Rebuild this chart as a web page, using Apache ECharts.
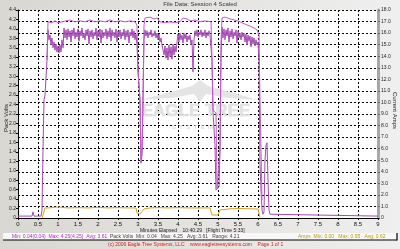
<!DOCTYPE html>
<html>
<head>
<meta charset="utf-8">
<script src="https://cdn.jsdelivr.net/npm/echarts@6/dist/echarts.min.js"></script>
<style>html,body{margin:0;padding:0;background:#e4e2dc}#c{width:400px;height:249px}</style>
</head>
<body>
<div id="c"></div>
<script>
// ---- data (minutes on x) ----
const xTicks = {min: 0, max: 9, interval: 0.5};
const leftAxis = {min: 0, max: 4.4, interval: 0.2};
const rightAxis = {min: 0, max: 18, interval: 1};
const SAMPLE_MIN = 0.025; // logger sample period, minutes

// pack volts: sparse start, dense logged section, end
const voltsStart = [[0,0.04],[0.35,0.04],[0.375,0.13],[0.4,0.04],[0.575,0.04],[0.6,0.17],[0.625,1.44],[0.65,2.50],[0.675,2.60],[0.7,2.64],[0.725,3.34]];
const voltsLogStart = 0.75;
const voltsLog = [
 3.98,3.77,3.87,3.66,3.81,3.60,3.72,3.55,3.68,3.51,3.64,3.49,3.66,3.51,3.77,3.60,
 4.02,3.81,3.98,3.77,4.00,3.83,3.96,3.72,3.98,3.85,
 4.02,3.79,3.93,3.83,4.00,3.74,3.96,3.85,4.02,3.81,
 3.91,3.77,3.98,3.85,4.00,3.68,3.96,3.83,3.98,3.79,
 3.93,3.85,4.02,3.77,3.96,3.83,4.00,3.70,3.98,3.81,
 3.93,3.85,4.00,3.79,3.96,3.83,4.02,3.74,3.98,3.85,
 3.93,3.81,4.00,3.72,3.96,3.83,3.98,3.79,3.93,3.85,
 4.00,3.77,3.96,3.83,3.98,3.70,3.93,3.85,4.00,3.81,
 3.96,3.77,3.89,
 3.66,3.09,3.13,2.50,1.16,1.33,2.50,3.77,
 3.98,3.85,3.96,3.81,3.93,3.87,3.98,3.83,3.91,3.85,3.96,3.81,3.91,3.77,3.89,3.72,3.81,3.66,
 3.68,3.45,3.64,3.38,3.60,3.34,3.66,3.41,3.62,3.36,3.68,3.45,3.64,3.51,3.72,
 3.89,3.72,3.91,3.77,3.87,3.70,3.91,3.79,3.89,3.72,3.85,3.77,3.87,3.66,3.77,3.09,3.77,
 3.96,3.85,3.98,3.83,3.93,3.87,3.98,3.83,3.93,3.85,3.98,3.81,3.93,3.85,3.96,3.87,3.91,
 3.34,2.24,2.22,1.54,0.59,0.63,0.61,0.66,1.44,3.34,
 4.04,3.81,4.00,3.77,3.98,3.85,4.02,3.72,3.96,3.83,4.00,3.79,3.93,3.85,3.98,3.70,3.96,3.81,3.91,3.77,3.93,3.83,
 3.91,3.72,3.89,3.66,3.87,3.74,3.85,3.62,3.83,3.68,3.81,3.64,3.77,3.66,3.72,
 3.34,1.12,0.59,0.17,0.08,0.13,1.23,1.54,1.59,0.80,0.17,0.08,0.04
];
const voltsEnd = [[9,0.04]];

// peak (upper envelope) volts
const voltsPeak = [[0.725,3.34],[0.75,4.15],[0.85,4.13],[0.925,4.17],[1.0,4.13],[1.1,4.15],[1.2,4.17],[1.3,4.19],[1.42,4.15],[1.55,4.17],[1.68,4.15],[1.8,4.19],[1.92,4.15],[2.05,4.17],[2.18,4.15],[2.3,4.19],[2.42,4.15],[2.55,4.17],[2.68,4.15],[2.8,4.17],[2.925,4.15],[2.975,4.08],[3.0,3.13],[3.025,3.09],[3.05,2.50],[3.075,1.23],[3.1,1.44],[3.125,2.50],[3.15,4.08],[3.175,4.23],[3.3,4.25],[3.4,4.21],[3.475,4.23],[3.55,4.15],[3.68,4.13],[3.8,4.15],[3.92,4.13],[4.05,4.15],[4.125,4.23],[4.225,4.21],[4.32,4.17],[4.425,4.19],[4.55,4.15],[4.675,4.17],[4.825,4.15],[4.85,3.34],[4.875,2.28],[4.925,2.24],[4.95,2.22],[4.975,0.63],[5.025,0.66],[5.05,1.44],[5.075,3.77],[5.1,4.23],[5.175,4.25],[5.3,4.21],[5.42,4.19],[5.55,4.15],[5.68,4.10],[5.8,4.06],[5.9,4.02],[5.975,3.98],[6.025,3.87],[6.05,2.50],[6.1,0.38]];

// amps
const amps = [[0.6,0],[0.625,0.26],[0.675,0.87],[0.75,0.87],[1.0,0.95],[1.25,0.87],[1.5,0.90],[1.75,0.87],[2.0,0.92],[2.25,0.87],[2.5,0.90],[2.75,0.87],[2.95,0.87],[2.975,0.43],[3.05,0.35],[3.1,0.43],[3.15,0.78],[3.3,0.87],[3.5,0.90],[3.75,0.87],[4.0,0.90],[4.25,0.87],[4.5,0.87],[4.8,0.87],[4.85,0.26],[5.0,0.26],[5.05,0.69],[5.1,0.78],[5.3,0.80],[5.55,0.82],[5.8,0.80],[6.0,0.78],[6.05,0.05]];

const titleText = 'File Data: Session 4 Scaled';
const leftName = 'Pack Volts';
const rightName = 'Current Amps';
const xName = 'Minutes Elapsed    10:40:29   [Flight Time 5:33]';

// build volts series
const voltsSeries = voltsStart.concat(voltsLog.map((v,i)=>[+(voltsLogStart + i*SAMPLE_MIN).toFixed(3), v]), voltsEnd);

const F = 'Liberation Sans, Arial, sans-serif';
const chart = echarts.init(document.getElementById('c'), null, {renderer:'canvas'});
chart.setOption({
  animation:false,
  backgroundColor: new echarts.graphic.LinearGradient(0,0,1,0,[{offset:0,color:'#d9d7d1'},{offset:1,color:'#efefef'}]),
  grid:{left:18,right:22,top:10,bottom:31,show:true,backgroundColor:'#ffffff',borderWidth:0},
  xAxis:{type:'value',min:xTicks.min,max:xTicks.max,interval:xTicks.interval,
    axisLine:{lineStyle:{color:'#000',width:1}},axisTick:{length:2,lineStyle:{color:'#000'}},
    axisLabel:{fontSize:6,color:'#111',fontFamily:F,margin:3},
    splitLine:{show:true,lineStyle:{color:'#000',type:[2,2],width:1}}},
  yAxis:[
    {type:'value',min:leftAxis.min,max:leftAxis.max,interval:leftAxis.interval,position:'left',
     axisLine:{show:true,lineStyle:{color:'#000'}},axisTick:{show:true,length:2,lineStyle:{color:'#000'}},
     axisLabel:{fontSize:5,color:'#222',fontFamily:F,margin:2,formatter:v=>v===0?'0':v.toFixed(1)},
     splitLine:{show:false}},
    {type:'value',min:rightAxis.min,max:rightAxis.max,interval:rightAxis.interval,position:'right',
     axisLine:{show:true,lineStyle:{color:'#a8a8a8',width:3}},axisTick:{show:true,length:2,lineStyle:{color:'#666'}},
     axisLabel:{fontSize:5,color:'#222',fontFamily:F,margin:3,formatter:v=>v===0?'0':v.toFixed(1)},
     splitLine:{show:true,lineStyle:{color:'#000',type:[2,2],width:1}}}
  ],
  series:[
    {name:'Amps',type:'line',yAxisIndex:1,data:amps,showSymbol:false,lineStyle:{color:'#d8a020',width:1},z:3},
    {name:'Pack Volts',type:'line',yAxisIndex:0,data:voltsSeries,showSymbol:false,lineStyle:{color:'#a448b4',width:1},z:4},
    {name:'Peak Volts',type:'line',yAxisIndex:0,data:voltsPeak,showSymbol:false,lineStyle:{color:'#c858d0',width:1},z:5}
  ],
  graphic:[
    {type:'text',left:'center',top:1,style:{text:titleText,fontSize:6,fill:'#334',font:'6px '+F}},
    {type:'text',x:3,y:132,rotation:Math.PI/2,style:{text:leftName,font:'6px '+F,fill:'#222'}},
    {type:'text',x:398,y:92,rotation:-Math.PI/2,style:{text:rightName,font:'6px '+F,fill:'#222'}},
    // watermark
    {type:'polygon',z:1,shape:{points:[[140,100],[170,92],[192,86],[200,80],[208,86],[230,92],[258,100],[228,98],[206,94],[200,102],[194,94],[172,98]]},style:{fill:'#e4e4e4'}},
    {type:'text',z:1,x:196,y:111,style:{text:'EAGLE TREE',font:'bold 17px '+F,fill:'#e2e2e2',stroke:'#d4d4d4',lineWidth:0.5,align:'center',verticalAlign:'middle'}},
    {type:'text',z:1,x:196,y:127,style:{text:'S  Y  S  T  E  M  S',font:'6px '+F,fill:'#d0d0d0',align:'center',verticalAlign:'middle'}},
    // x axis title
    {type:'text',x:140,y:228,style:{text:xName,font:'5px '+F,fill:'#222'}},
    // legend strip
    {type:'rect',shape:{x:3,y:233,width:394,height:7},style:{fill:'#f8f8f8'}},
    {type:'line',shape:{x1:3,y1:240,x2:397,y2:240},style:{stroke:'#000',lineWidth:1.2}},
    {type:'line',shape:{x1:397,y1:233,x2:397,y2:240.5},style:{stroke:'#000',lineWidth:1.2}},
    {type:'text',x:12,y:234,style:{text:'Min: 0.04(0.04)  Max: 4.25(4.25)  Avg: 3.61',font:'5px '+F,fill:'#b030c8'}},
    {type:'text',x:110,y:234,style:{text:'Pack Volts  Min: 0.04   Max: 4.25   Avg: 3.61   Range: 4.21',font:'5px '+F,fill:'#444'}},
    {type:'text',x:298,y:234,style:{text:'Amps  Min: 0.00   Max: 0.95   Avg: 0.62',font:'5px '+F,fill:'#c09a00'}},
    {type:'text',x:108,y:242,style:{text:'(c) 2006 Eagle Tree Systems, LLC    www.eagletreesystems.com    Page 1 of 1',font:'5px '+F,fill:'#d02020'}}
  ]
});
</script>
</body>
</html>
